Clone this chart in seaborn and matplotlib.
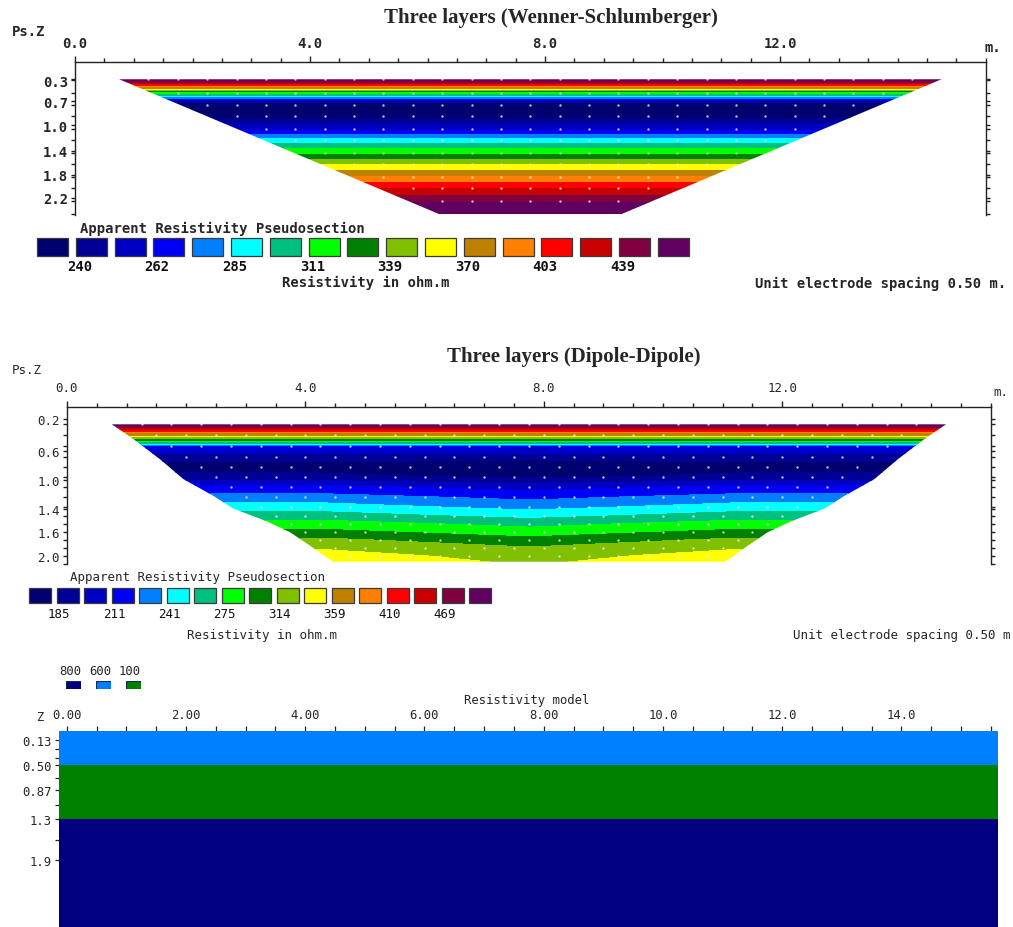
import numpy as np
import matplotlib
matplotlib.use("Agg")
import matplotlib.pyplot as plt
from matplotlib.patches import Polygon, Rectangle
from matplotlib.colors import ListedColormap
import seaborn as sns

sns.set_theme(style="white")
plt.rcParams["font.family"] = ["DejaVu Sans Mono"]

# ---------------------------------------------------------------- data
LINE_LENGTH = 15.5  # m, 32 electrodes at 0.5 m

# colour scale used by both pseudosections (17 classes)
PALETTE = ["#00006e", "#000096", "#0000c4", "#0000f4", "#0080ff", "#00ffff",
           "#00c080", "#00ff00", "#008000", "#80c000", "#ffff00", "#c08000",
           "#ff8000", "#ff0000", "#c80000", "#800040", "#600060"]

# Wenner-Schlumberger apparent resistivity (laterally uniform)
WS_DEPTH = [0.28, 0.50, 0.69, 0.88, 1.08, 1.27, 1.47, 1.66, 1.86, 2.05, 2.25, 2.47]
WS_RHO = [480, 320, 228, 236, 259, 290, 322, 354, 389, 421, 455, 490]
WS_EDGE_Z = [0.28, 2.47]
WS_EDGE_X = [0.75, 6.20]
WS_BOUNDS = [240, 251, 262, 273, 285, 298, 311, 325, 339, 354, 370, 386,
             403, 421, 439, 459]
WS_ZTICKS = [0.30, 0.64, 1.03, 1.44, 1.83, 2.20]
WS_ZLABELS = ["0.3", "0.7", "1.0", "1.4", "1.8", "2.2"]

# Dipole-Dipole apparent resistivity: centre of line and flanks
DD_DEPTH = [0.27, 0.41, 0.56, 0.70, 0.83, 0.96, 1.09, 1.23, 1.36, 1.48,
            1.58, 1.69, 1.79, 1.90, 2.00, 2.11]
DD_RHO_MID = [520, 360, 215, 188, 178, 182, 204, 222, 236, 252, 269, 284,
              300, 316, 326, 334]
DD_RHO_SIDE = [520, 360, 218, 190, 180, 188, 214, 232, 248, 266, 283, 300,
               318, 334, 346, 356]
DD_COLS = [0.0, 4.25, 7.75, 11.25, 15.5]
DD_EDGE_Z = [0.27, 0.46, 0.73, 0.99, 1.21, 1.38, 1.55, 1.69, 1.87, 2.08]
DD_EDGE_X = [0.75, 1.11, 1.56, 1.95, 2.45, 2.79, 3.36, 3.74, 4.08, 4.46]
DD_BOUNDS = [185, 198, 211, 226, 241, 257, 275, 294, 314, 336, 359, 384,
             410, 439, 469, 502]
DD_ZTICKS = [0.20, 0.62, 1.00, 1.38, 1.69, 2.00]
DD_ZLABELS = ["0.2", "0.6", "1.0", "1.4", "1.6", "2.0"]

X_MAJOR = [0, 4, 8, 12]
X_MAJOR_LABELS = ["0.0", "4.0", "8.0", "12.0"]

# three-layer resistivity model
MODEL_Z_EDGES = [0.0, 0.50, 1.30, 2.88]
MODEL_RHO = [600, 100, 800]
MODEL_KEY = [800, 600, 100]
MODEL_COLORS = {800: "#000080", 600: "#0080ff", 100: "#008000"}
MODEL_X_EDGES = [-0.13, 15.62]
MODEL_XTICKS = [0, 2, 4, 6, 8, 10, 12, 14]
MODEL_XLABELS = ["0.00", "2.00", "4.00", "6.00", "8.00", "10.0", "12.0", "14.0"]
MODEL_ZTICKS = [0.13, 0.50, 0.87, 1.3, 1.9]
MODEL_ZLABELS = ["0.13", "0.50", "0.87", "1.3", "1.9"]
MODEL_ZMINOR = [0.27, 0.39, 0.69, 1.09, 1.6]

# ---------------------------------------------------------------- figure
W, H = 1013, 928
fig = plt.figure(figsize=(W / 100, H / 100), dpi=100)
fig.patch.set_facecolor("white")


def px_axes(x0, y0, x1, y1):
    return fig.add_axes([x0 / W, 1 - y1 / H, (x1 - x0) / W, (y1 - y0) / H])


def ptext(x, y, s, **kw):
    kw.setdefault("va", "center")
    fig.text(x / W, 1 - y / H, s, **kw)


def coverage(edge_x, edge_z):
    left = list(zip(edge_x, edge_z))
    right = [(LINE_LENGTH - x, z) for x, z in zip(edge_x, edge_z)][::-1]
    return left + right


def pseudosection(ax, xcols, depth, grid, bounds, edge_x, edge_z, fsize,
                  weight, zticks, zlabels, ylim, dot_shift):
    levels = [0] + list(bounds) + [10000]
    xx, zz = np.meshgrid(xcols, depth)
    cs = ax.contourf(xx, zz, grid, levels=levels, colors=PALETTE,
                     antialiased=False)
    poly = Polygon(coverage(edge_x, edge_z), closed=True,
                   transform=ax.transData, facecolor="none", edgecolor="none")
    ax.add_patch(poly)
    cs.set_clip_path(poly)

    # measurement points
    px, pz = [], []
    for i, z in enumerate(depth):
        lo = np.interp(z, edge_z, edge_x)
        hi = LINE_LENGTH - lo
        start = 0.75 + (0.25 if (dot_shift and i % 2) else 0.0)
        for x in np.arange(start, LINE_LENGTH, 0.5):
            if lo + 0.12 < x < hi - 0.12 and z < edge_z[-1] - 0.02:
                px.append(x)
                pz.append(z)
    sns.scatterplot(x=px, y=pz, ax=ax, color="#f4e8f4", s=3, linewidth=0,
                    alpha=0.8, legend=False, zorder=3)

    ax.set_xlim(0, LINE_LENGTH)
    ax.set_ylim(*ylim)
    ax.set_facecolor("white")
    for side in ("top", "left", "right"):
        ax.spines[side].set_visible(True)
        ax.spines[side].set_color("#222222")
        ax.spines[side].set_linewidth(1.0)
    ax.spines["bottom"].set_visible(False)
    ax.xaxis.tick_top()
    ax.set_xticks(X_MAJOR)
    ax.set_xticklabels(X_MAJOR_LABELS, fontsize=fsize, fontweight=weight)
    ax.set_xticks(np.arange(0, LINE_LENGTH + 0.01, 0.5), minor=True)
    ax.set_yticks(zticks)
    ax.set_yticklabels(zlabels, fontsize=fsize, fontweight=weight)
    ax.set_yticks(depth, minor=True)
    ax.tick_params(axis="x", which="both", top=True, bottom=False,
                   direction="out", color="#222222", width=1.0)
    ax.tick_params(axis="x", which="major", length=4.5, pad=4)
    ax.tick_params(axis="x", which="minor", length=3)
    ax.tick_params(axis="y", which="both", left=True, right=True,
                   direction="out", color="#222222", width=1.0, length=3,
                   pad=2)
    ax.set_xlabel("")
    ax.set_ylabel("")


def colour_key(x0, y0, pitch, width, height, bounds, fsize, weight, label_y):
    ax = px_axes(x0, y0, x0 + pitch * len(PALETTE), y0 + height)
    ax.set_xlim(0, len(PALETTE))
    ax.set_ylim(0, 1)
    ax.axis("off")
    frac = width / pitch
    for k, c in enumerate(PALETTE):
        ax.add_patch(Rectangle((k, 0), frac, 1, facecolor=c,
                               edgecolor="#3a3a3a", linewidth=0.9,
                               clip_on=False))
    for j, b in enumerate(bounds[::2]):
        ax.text(2 * j + 1 + 0.1, -(label_y - y0 - height) / height,
                str(b), ha="center", va="center", fontsize=fsize,
                fontweight=weight, color="#111111")


# ---- panel 1: Wenner-Schlumberger
ptext(551, 18, "Three layers (Wenner-Schlumberger)", ha="center",
      family="Liberation Serif", fontweight="bold", fontsize=15)
ptext(12, 32, "Ps.Z", fontsize=10, fontweight="bold")
ax1 = px_axes(75, 63, 75 + LINE_LENGTH * 58.75, 216)
ws_grid = np.column_stack([WS_RHO, WS_RHO])
pseudosection(ax1, [0.0, LINE_LENGTH], WS_DEPTH, ws_grid, WS_BOUNDS,
              WS_EDGE_X, WS_EDGE_Z, 10, "bold", WS_ZTICKS, WS_ZLABELS,
              (2.484, 0.0), False)
ptext(984, 48, "m.", fontsize=10, fontweight="bold")
ptext(80, 229, "Apparent Resistivity Pseudosection", fontsize=10,
      fontweight="bold")
colour_key(37, 239, 38.8, 31, 18, WS_BOUNDS, 10, "bold", 267)
ptext(366, 283, "Resistivity in ohm.m", ha="center", fontsize=10,
      fontweight="bold")
ptext(1006, 284, "Unit electrode spacing 0.50 m.", ha="right", fontsize=10,
      fontweight="bold")

# ---- panel 2: Dipole-Dipole
ptext(574, 357, "Three layers (Dipole-Dipole)", ha="center",
      family="Liberation Serif", fontweight="bold", fontsize=15)
ptext(12, 370, "Ps.Z", fontsize=9)
ax2 = px_axes(67, 408, 67 + LINE_LENGTH * 59.6, 565)
dd_grid = np.column_stack([DD_RHO_SIDE, DD_RHO_SIDE, DD_RHO_MID,
                           DD_RHO_SIDE, DD_RHO_SIDE])
pseudosection(ax2, DD_COLS, DD_DEPTH, dd_grid, DD_BOUNDS, DD_EDGE_X,
              DD_EDGE_Z, 9, "normal", DD_ZTICKS, DD_ZLABELS,
              (2.105, 0.042), True)
ax2.tick_params(axis="x", which="major", pad=5)
ptext(993, 392, "m.", fontsize=9)
ptext(70, 577, "Apparent Resistivity Pseudosection", fontsize=9)
colour_key(29, 589, 27.5, 22, 15, DD_BOUNDS, 9, "normal", 615)
ptext(262, 635, "Resistivity in ohm.m", ha="center", fontsize=9)
ptext(1010, 635, "Unit electrode spacing 0.50 m", ha="right", fontsize=9)

# ---- panel 3: resistivity model
for k, r in enumerate(MODEL_KEY):
    cx = 70 + 30 * k
    ptext(cx, 672, str(r), ha="center", fontsize=8.8)
    kax = px_axes(cx - 4, 682, cx + 11, 690)
    kax.add_patch(Rectangle((0, 0), 1, 1, facecolor=MODEL_COLORS[r],
                            edgecolor="#1a2a4a", linewidth=0.8))
    kax.set_xlim(0, 1)
    kax.set_ylim(0, 1)
    kax.axis("off")
ptext(527, 701, "Resistivity model", ha="center", fontsize=8.8)
ptext(40, 718, "Z", ha="center", fontsize=8.8)

ax3 = px_axes(59, 732, 998, 928)
cmap_model = ListedColormap([MODEL_COLORS[r] for r in MODEL_RHO])
ax3.pcolormesh(MODEL_X_EDGES, MODEL_Z_EDGES,
               np.arange(len(MODEL_RHO)).reshape(-1, 1),
               cmap=cmap_model, vmin=-0.5, vmax=len(MODEL_RHO) - 0.5,
               shading="flat")
ax3.set_xlim(MODEL_X_EDGES[0], MODEL_X_EDGES[1])
ax3.set_ylim(MODEL_Z_EDGES[-1], 0.0)
for s in ax3.spines.values():
    s.set_visible(False)
ax3.xaxis.tick_top()
ax3.set_xticks(MODEL_XTICKS)
ax3.set_xticklabels(MODEL_XLABELS, fontsize=8.8)
ax3.set_xticks(np.arange(0, LINE_LENGTH + 0.01, 0.5), minor=True)
ax3.set_yticks(MODEL_ZTICKS)
ax3.set_yticklabels(MODEL_ZLABELS, fontsize=8.8)
ax3.set_yticks(MODEL_ZMINOR, minor=True)
ax3.tick_params(axis="x", which="both", top=True, bottom=False,
                direction="out", color="#222222", width=0.9, length=3.5,
                pad=4)
ax3.tick_params(axis="y", which="both", left=True, right=False,
                direction="out", color="#222222", width=0.9, length=3,
                pad=2)

fig.savefig("out.png", dpi=100, facecolor="white")
